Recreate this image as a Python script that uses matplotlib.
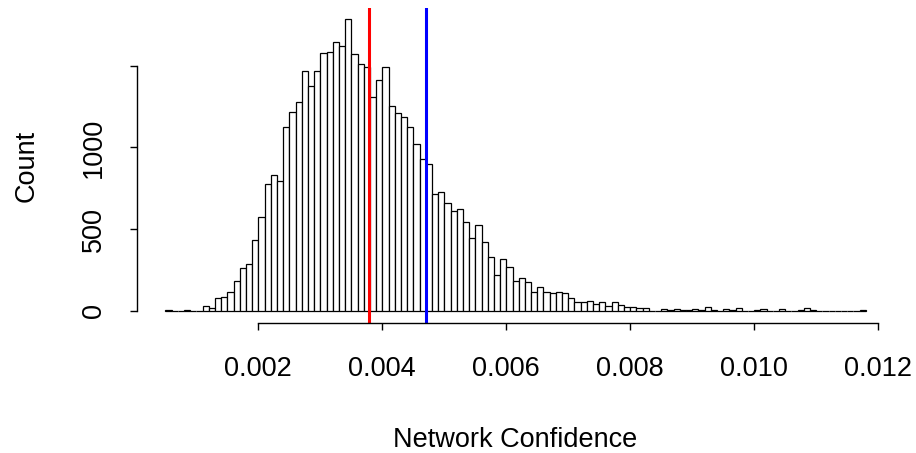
import numpy as np
import matplotlib
matplotlib.use("Agg")
import matplotlib.pyplot as plt

plt.rcParams['font.family'] = ['Liberation Sans', 'DejaVu Sans']

# Histogram data: bins of width 0.0001 starting at 0.0005
bin_start = 0.0005
bin_width = 0.0001
counts = [
    6, 0, 0, 8, 0, 0, 33, 16, 80, 86, 116, 184, 265, 288, 431, 575, 779, 834, 795,
    1123, 1219, 1280, 1468, 1374, 1466, 1576, 1582, 1647, 1619, 1784, 1570, 1511, 1494, 1311, 1415, 1494, 1254, 1211,
    1185, 1127, 1019, 930, 901, 714, 730, 663, 612, 626, 546, 449, 528, 422, 332, 218, 316, 271, 186, 200,
    177, 116, 147, 116, 110, 114, 112, 77, 55, 55, 61, 45, 55, 29, 57, 37, 27, 27, 15,
    16, 2, 1, 12, 6, 14, 6, 8, 14, 6, 26, 4, 2, 12, 6, 18, 2, 2, 4,
    14, 2, 2, 10, 1, 1, 6, 16, 4, 1, 0, 1, 0, 1, 0, 1, 8,
]
red_line = 0.003789
blue_line = 0.004708
x_ticks = [0.002, 0.004, 0.006, 0.008, 0.010, 0.012]
x_tick_labels = ["0.002", "0.004", "0.006", "0.008", "0.010", "0.012"]
y_ticks = [0, 500, 1000, 1500]
y_tick_labels = ["0", "500", "1000", ""]
x_label = "Network Confidence"
y_label = "Count"

W, H = 916, 453
fig = plt.figure(figsize=(W / 100, H / 100), dpi=100)
left, right = 137.3, 893.9
top, bottom = 7.7, 322.6
ax = fig.add_axes([left / W, 1 - bottom / H, (right - left) / W, (bottom - top) / H])

edges = bin_start + bin_width * np.arange(len(counts))
ax.bar(edges, counts, width=bin_width, align='edge', facecolor='white',
       edgecolor='black', linewidth=0.9)

x0 = edges[0]
x1 = edges[-1] + bin_width
dx = (x1 - x0) * 0.04
ax.set_xlim(x0 - dx, x1 + dx)
ymax = max(counts)
ax.set_ylim(-0.04 * ymax, ymax * 1.04)

ax.axvline(red_line, color='#FF0000', linewidth=2.2)
ax.axvline(blue_line, color='#0000FF', linewidth=2.2)

for s in ['top', 'right']:
    ax.spines[s].set_visible(False)
ax.spines['bottom'].set_bounds(x_ticks[0], x_ticks[-1])
ax.spines['left'].set_bounds(y_ticks[0], y_ticks[-1])
ax.spines['bottom'].set_linewidth(1.0)
ax.spines['left'].set_linewidth(1.0)

ax.set_xticks(x_ticks)
ax.set_xticklabels(x_tick_labels)
ax.set_yticks(y_ticks)
ax.set_yticklabels(y_tick_labels, rotation=90, va='center')
ax.tick_params(axis='both', length=5.0, width=1.0, labelsize=19.5)
ax.tick_params(axis='x', pad=19)
ax.tick_params(axis='y', pad=17)

fig.text(515.6 / W, 1 - 446.7 / H, x_label, ha='center', va='baseline', fontsize=19.5)
fig.text(33.3 / W, 1 - 165.8 / H, y_label, ha='center', va='baseline', fontsize=19.5,
         rotation=90, rotation_mode='anchor')

fig.savefig("out.png", dpi=100)
